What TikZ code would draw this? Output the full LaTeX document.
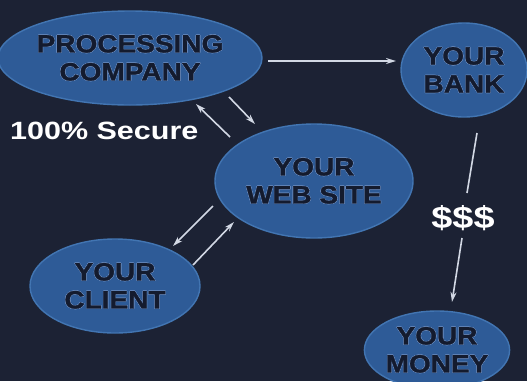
\documentclass[tikz,border=0pt]{standalone}
\usepackage{fontspec}
\setmainfont{Liberation Sans}
\newfontfamily\wide[FakeStretch=1.12,FakeBold=1.2]{Liberation Sans}
\newfontfamily\wider[FakeStretch=1.22]{Liberation Sans}
\usepackage{contour}
\contourlength{0.35pt}
\contournumber{16}
\usetikzlibrary{shapes.geometric,arrows.meta}
\definecolor{bg}{HTML}{1C2234}
\definecolor{ellfill}{HTML}{2E5B97}
\definecolor{ellrim}{HTML}{4275B2}
\definecolor{ink}{HTML}{141B2E}
\definecolor{halo}{HTML}{6A8BBE}
\definecolor{arrowc}{HTML}{D2D8E4}
\tikzset{
  bubble/.style={ellipse, fill=ellfill, draw=ellrim, line width=1.4pt, inner sep=0pt,
    align=center, text=ink, font=\wide\bfseries\fontsize{25}{28}\selectfont},
  arr/.style={draw=arrowc, line width=1.6pt, -{Stealth[length=10pt,width=6pt]}},
  plain/.style={draw=arrowc, line width=1.6pt},
  whitetext/.style={text=white, font=\wider\bfseries\fontsize{25}{28}\selectfont, inner sep=0pt}
}
\newcommand{\halotext}[1]{\contour{halo}{#1}}
\begin{document}
\begin{tikzpicture}[x=1pt,y=-1pt]
\fill[bg] (0,0) rectangle (527,381);
\useasboundingbox (0,0) rectangle (527,381);

\node[bubble, minimum width=246pt, minimum height=94pt] (pc) at (130,58)
  {\halotext{PROCESSING}\\\halotext{COMPANY}};
\node[bubble, minimum width=126pt, minimum height=94pt] (bank) at (464,70)
  {\halotext{YOUR}\\\halotext{BANK}};
\node[bubble, minimum width=198pt, minimum height=114pt] (web) at (314,181)
  {\halotext{YOUR}\\\halotext{WEB SITE}};
\node[bubble, minimum width=170pt, minimum height=94pt] (client) at (115,286)
  {\halotext{YOUR}\\\halotext{CLIENT}};
\node[bubble, minimum width=134pt, minimum height=78pt] (money) at (437,350)
  {\halotext{YOUR}\\\halotext{MONEY}};

\node[whitetext, anchor=west] (secure) at (10,131) {100\% Secure};
\node[whitetext, font=\wider\bfseries\fontsize{31}{32}\selectfont] (dollar) at (463,218) {\$\$\$};

% connector end points
\coordinate (pcR) at (268,61);
\coordinate (bankL) at (396,61);
\coordinate (a1s) at (230,137);
\coordinate (a1e) at (196,104);
\coordinate (a2s) at (229,97);
\coordinate (a2e) at (255,124);
\coordinate (b1s) at (213,206);
\coordinate (b1e) at (173,246);
\coordinate (b2s) at (193,265);
\coordinate (b2e) at (234,222);
\coordinate (bankB) at (477,133);
\coordinate (dolT) at (467,193);
\coordinate (dolB) at (462,238);
\coordinate (moneyT) at (452,302);

\draw[arr] (pcR) -- (bankL);
\draw[arr] (a1s) -- (a1e);
\draw[arr] (a2s) -- (a2e);
\draw[arr] (b1s) -- (b1e);
\draw[arr] (b2s) -- (b2e);
\draw[plain] (bankB) -- (dolT);
\draw[arr] (dolB) -- (moneyT);
\end{tikzpicture}
\end{document}
